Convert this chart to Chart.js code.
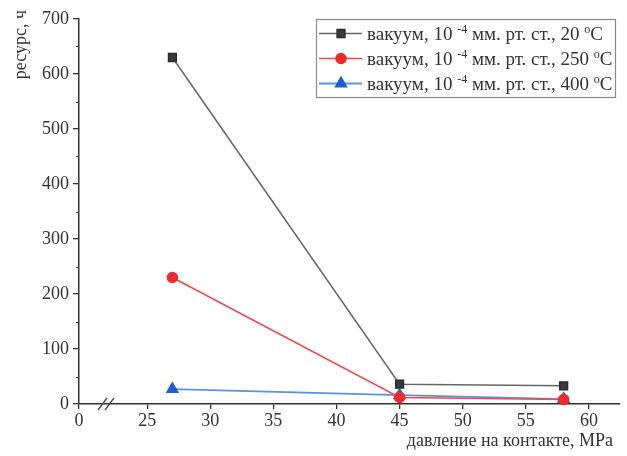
<!DOCTYPE html>
<html>
<head>
<meta charset="utf-8">
<script src="https://cdn.jsdelivr.net/npm/chart.js@4.4.1/dist/chart.umd.min.js"></script>
<style>
  html, body { margin: 0; padding: 0; background: #fff; }
  #wrap { width: 627px; height: 456px; }
</style>
</head>
<body>
<div id="wrap"><canvas id="chart" width="627" height="456"></canvas></div>
<script>
// давление на контакте, MPa
const pressure = [27, 45, 58];
// ресурс, ч
const resource20 = [630, 36, 33];
const resource250 = [230, 12, 8];
const resource400 = [27, 16, 9];

const seriesTemps = ["20", "250", "400"];
const xTickValues = [25, 30, 35, 40, 45, 50, 55, 60];
const yTickValues = [0, 100, 200, 300, 400, 500, 600, 700];
// the "0" label is put just before the axis break
const xBreakStart = 19.6;

const font = "Liberation Serif";
const textColor = "#333";

// axis titles, minor ticks, break marks and the legend with superscripts
const extras = {
  id: "extras",
  afterDraw(chart) {
    const ctx = chart.ctx;
    const x = chart.scales.x;
    const y = chart.scales.y;
    ctx.save();

    // minor ticks on y
    ctx.strokeStyle = "#333";
    ctx.lineWidth = 1;
    for (let v = 50; v < 700; v += 100) {
      const py = Math.round(y.getPixelForValue(v)) + 0.5;
      ctx.beginPath();
      ctx.moveTo(x.left - 3, py);
      ctx.lineTo(x.left, py);
      ctx.stroke();
    }

    // break "//" on x axis
    const by = x.top;
    ctx.strokeStyle = "#444";
    ctx.lineWidth = 1.3;
    [98, 105].forEach((bx) => {
      ctx.beginPath();
      ctx.moveTo(bx, by + 6);
      ctx.lineTo(bx + 9, by - 6);
      ctx.stroke();
    });

    // axis titles
    ctx.fillStyle = textColor;
    ctx.font = "18px " + font;
    ctx.textAlign = "right";
    ctx.textBaseline = "middle";
    ctx.fillText("давление на контакте, MPa", 613, 441);
    ctx.save();
    ctx.translate(21, 10);
    ctx.rotate(-Math.PI / 2);
    ctx.fillText("ресурс, ч", 0, 0);
    ctx.restore();

    // legend
    const lx = 316, ly = 19, lw = 299, lh = 78;
    ctx.fillStyle = "#fff";
    ctx.fillRect(lx, ly, lw, lh);
    ctx.strokeStyle = "#888";
    ctx.lineWidth = 1.2;
    ctx.strokeRect(lx + 0.5, ly + 0.5, lw, lh);

    const rows = [33, 58, 83];
    chart.data.datasets.forEach((ds, i) => {
      const ry = rows[i] + 0.5;
      ctx.strokeStyle = ds.borderColor;
      ctx.lineWidth = ds.borderWidth;
      ctx.beginPath();
      ctx.moveTo(lx + 3, ry);
      ctx.lineTo(lx + 46, ry);
      ctx.stroke();
      ctx.fillStyle = ds.pointBackgroundColor;
      ctx.strokeStyle = ds.pointBorderColor;
      Chart.helpers.drawPoint(ctx, {
        pointStyle: ds.pointStyle,
        radius: ds.pointRadius,
        rotation: 0,
        borderWidth: 1,
      }, lx + 25, ry);

      const parts = [
        ["вакуум, 10 ", false],
        ["-4", true],
        [" мм. рт. ст., " + seriesTemps[i] + " ", false],
        ["o", true],
        ["C", false],
      ];
      let tx = lx + 51;
      ctx.fillStyle = textColor;
      ctx.textBaseline = "alphabetic";
      ctx.textAlign = "left";
      parts.forEach(([t, sup]) => {
        ctx.font = (sup ? "12px " : "19px ") + font;
        ctx.fillText(t, tx, ry + (sup ? -1 : 6));
        tx += ctx.measureText(t).width;
      });
    });
    ctx.restore();
  },
};

new Chart(document.getElementById("chart"), {
  type: "line",
  data: {
    datasets: [
      {
        label: "вакуум, 10 -4 мм. рт. ст., 20 oC",
        data: pressure.map((p, i) => ({ x: p, y: resource20[i] })),
        borderColor: "#666",
        borderWidth: 1.5,
        pointStyle: "rect",
        pointRadius: 5.5,
        pointBackgroundColor: "#3a3a3a",
        pointBorderColor: "#2a2a2a",
      },
      {
        label: "вакуум, 10 -4 мм. рт. ст., 250 oC",
        data: pressure.map((p, i) => ({ x: p, y: resource250[i] })),
        borderColor: "#f0484c",
        borderWidth: 1.5,
        pointStyle: "circle",
        pointRadius: 5,
        pointBackgroundColor: "#ee2a2e",
        pointBorderColor: "#ee2a2e",
      },
      {
        label: "вакуум, 10 -4 мм. рт. ст., 400 oC",
        data: pressure.map((p, i) => ({ x: p, y: resource400[i] })),
        borderColor: "#5a92e0",
        borderWidth: 1.8,
        pointStyle: "triangle",
        pointRadius: 6,
        pointBackgroundColor: "#1c5fd6",
        pointBorderColor: "#1c5fd6",
      },
    ],
  },
  options: {
    responsive: false,
    animation: false,
    clip: false,
    layout: { padding: { top: 19, right: 4, left: 0, bottom: 0 } },
    plugins: { legend: { display: false }, tooltip: { enabled: false } },
    scales: {
      x: {
        type: "linear",
        min: xBreakStart,
        max: 62.4,
        afterBuildTicks: (scale) => {
          scale.ticks = [xBreakStart, ...xTickValues].map((v) => ({ value: v }));
        },
        afterFit: (scale) => { scale.height = 52; },
        border: { color: "#333", width: 1.5 },
        grid: { drawOnChartArea: false, drawTicks: true, tickLength: 5, color: "#333", lineWidth: 1.3 },
        ticks: {
          autoSkip: false,
          maxRotation: 0,
          padding: 1,
          color: textColor,
          font: { family: font, size: 18 },
          callback: (v) => (v === xBreakStart ? "0" : v),
        },
      },
      y: {
        min: 0,
        max: 700,
        afterBuildTicks: (scale) => {
          scale.ticks = yTickValues.map((v) => ({ value: v }));
        },
        afterFit: (scale) => { scale.width = 79; },
        border: { color: "#333", width: 1.5 },
        grid: { drawOnChartArea: false, drawTicks: true, tickLength: 6, color: "#333", lineWidth: 1.3 },
        ticks: {
          padding: 4,
          color: textColor,
          font: { family: font, size: 18 },
        },
      },
    },
  },
  plugins: [extras],
});
</script>
</body>
</html>
